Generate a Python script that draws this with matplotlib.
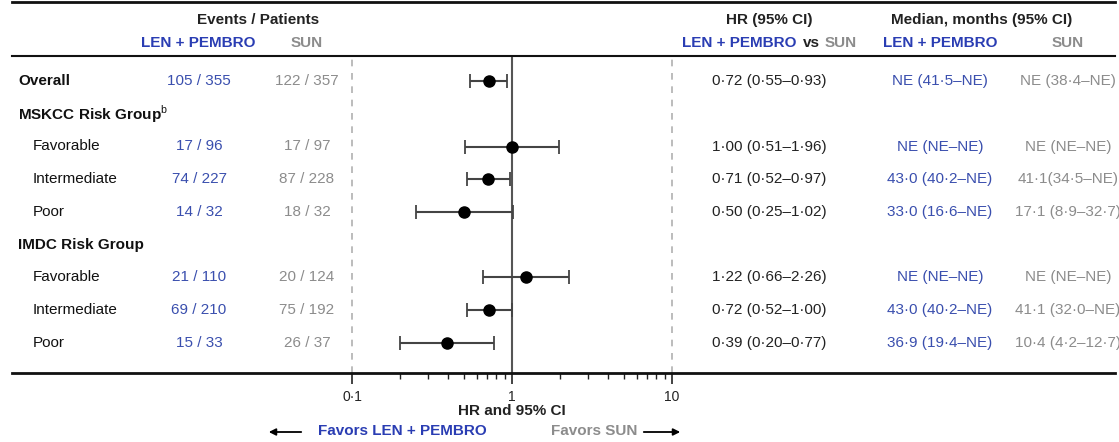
import matplotlib
matplotlib.use("Agg")
import matplotlib.pyplot as plt
import matplotlib.transforms as mtransforms
from matplotlib.lines import Line2D
from matplotlib.ticker import NullFormatter
import numpy as np

plt.rcParams['font.family'] = ['Liberation Sans', 'DejaVu Sans']
plt.rcParams['mathtext.fontset'] = 'custom'
plt.rcParams['mathtext.rm'] = 'Liberation Sans'

# --- datos ---
labels = ["Overall", "MSKCC Risk Group$^{\\mathrm{b}}$", "Favorable", "Intermediate", "Poor",
          "IMDC Risk Group", "Favorable", "Intermediate", "Poor"]
is_header = [True, True, False, False, False, True, False, False, False]
row_idx = [0, 2, 3, 4, 6, 7, 8]          # filas con datos
events_len = ["105 / 355", "17 / 96", "74 / 227", "14 / 32", "21 / 110", "69 / 210", "15 / 33"]
events_sun = ["122 / 357", "17 / 97", "87 / 228", "18 / 32", "20 / 124", "75 / 192", "26 / 37"]
hr = [0.72, 1.00, 0.71, 0.50, 1.22, 0.72, 0.39]
hr_lo = [0.55, 0.51, 0.52, 0.25, 0.66, 0.52, 0.20]
hr_hi = [0.93, 1.96, 0.97, 1.02, 2.26, 1.00, 0.77]
median_len = ["NE (41·5–NE)", "NE (NE–NE)", "43·0 (40·2–NE)", "33·0 (16·6–NE)",
              "NE (NE–NE)", "43·0 (40·2–NE)", "36·9 (19·4–NE)"]
median_sun = ["NE (38·4–NE)", "NE (NE–NE)", "41·1(34·5–NE)", "17·1 (8·9–32·7)",
              "NE (NE–NE)", "41·1 (32·0–NE)", "10·4 (4·2–12·7)"]
xticks = [0.1, 1, 10]
xtick_labels = ["0·1", "1", "10"]

BLUE = "#2a3db3"
BLUE_V = "#3a4fae"
GRAY = "#8c8c8c"
DARK = "#222222"

W, H = 1119, 442
fig = plt.figure(figsize=(W / 100, H / 100), dpi=100)

def fx(px):
    return px / W

def fy(py):
    return 1 - py / H

# ejes del forest plot
y_top, y_bot = 56, 373
row0, drow = 81, 32.75
ax = fig.add_axes([fx(352), fy(y_bot), fx(320), (y_bot - y_top) / H])
ax.set_xscale('log')
ax.set_xlim(0.1, 10)
ax.set_ylim((y_bot - row0) / drow, (y_top - row0) / drow)
for s in ax.spines.values():
    s.set_visible(False)
ax.set_yticks([])
ax.set_xticks(xticks, labels=xtick_labels)
ax.xaxis.set_minor_formatter(NullFormatter())
ax.tick_params(axis='x', which='major', length=8, width=1.2, color=DARK, labelsize=10, pad=4, labelcolor=DARK)
ax.tick_params(axis='x', which='minor', length=4, width=1.0, color=DARK)

ax.axvline(1, color='#555555', lw=1.5, zorder=1)
for v in (0.1, 10):
    ax.axvline(v, color='#b0b0b0', lw=1.2, ls=(0, (4, 4)), clip_on=False, zorder=1)

hr_a = np.array(hr)
yerr_rows = np.array(row_idx)
ax.errorbar(hr_a, yerr_rows, xerr=[hr_a - np.array(hr_lo), np.array(hr_hi) - hr_a],
            fmt='o', color='black', ms=8, ecolor='#444444', elinewidth=1.5,
            capsize=5, capthick=1.3, zorder=3)

# líneas horizontales
for py, lw in [(2, 2.0), (y_top, 1.5), (y_bot, 2.0)]:
    fig.add_artist(Line2D([fx(12), fx(1115)], [fy(py), fy(py)], color='#111111', lw=lw))

tr = mtransforms.blended_transform_factory(fig.transFigure, ax.transData)
fs = 11

# encabezados
fig.text(fx(258), fy(20), "Events / Patients", ha='center', va='center', fontsize=fs, weight='bold', color=DARK)
fig.text(fx(198), fy(43), "LEN + PEMBRO", ha='center', va='center', fontsize=fs, weight='bold', color=BLUE)
fig.text(fx(307), fy(43), "SUN", ha='center', va='center', fontsize=fs, weight='bold', color=GRAY)
fig.text(fx(769), fy(20), "HR (95% CI)", ha='center', va='center', fontsize=fs, weight='bold', color=DARK)
fig.text(fx(797), fy(43), "LEN + PEMBRO", ha='right', va='center', fontsize=fs, weight='bold', color=BLUE)
fig.text(fx(811), fy(43), "vs", ha='center', va='center', fontsize=fs, weight='bold', color=DARK)
fig.text(fx(825), fy(43), "SUN", ha='left', va='center', fontsize=fs, weight='bold', color=GRAY)
fig.text(fx(982), fy(20), "Median, months (95% CI)", ha='center', va='center', fontsize=fs, weight='bold', color=DARK)
fig.text(fx(940), fy(43), "LEN + PEMBRO", ha='center', va='center', fontsize=fs, weight='bold', color=BLUE)
fig.text(fx(1068), fy(43), "SUN", ha='center', va='center', fontsize=fs, weight='bold', color=GRAY)

# etiquetas de filas
for i, (lab, hd) in enumerate(zip(labels, is_header)):
    ax.text(fx(18 if hd else 33), i, lab, transform=tr, ha='left', va='center',
            fontsize=fs, weight='bold' if hd else 'normal', color='#111111')

# columnas de valores
for k, r in enumerate(row_idx):
    ax.text(fx(199), r, events_len[k], transform=tr, ha='center', va='center', fontsize=fs, color=BLUE_V)
    ax.text(fx(307), r, events_sun[k], transform=tr, ha='center', va='center', fontsize=fs, color=GRAY)
    hr_txt = f"{hr[k]:.2f} ({hr_lo[k]:.2f}–{hr_hi[k]:.2f})".replace('.', '·')
    ax.text(fx(769), r, hr_txt, transform=tr, ha='center', va='center', fontsize=fs, color=DARK)
    ax.text(fx(940), r, median_len[k], transform=tr, ha='center', va='center', fontsize=fs, color=BLUE_V)
    ax.text(fx(1068), r, median_sun[k], transform=tr, ha='center', va='center', fontsize=fs, color=GRAY)

# rótulos inferiores
fig.text(fx(512), fy(411), "HR and 95% CI", ha='center', va='center', fontsize=fs, weight='bold', color=DARK)
fig.text(fx(402), fy(431), "Favors LEN + PEMBRO", ha='center', va='center', fontsize=fs, weight='bold', color=BLUE)
fig.text(fx(594), fy(431), "Favors SUN", ha='center', va='center', fontsize=fs, weight='bold', color=GRAY)
fig.add_artist(matplotlib.patches.FancyArrowPatch((fx(304), fy(432)), (fx(266), fy(432)),
               transform=fig.transFigure, arrowstyle='-|>', mutation_scale=10, color='black', lw=1.3))
fig.add_artist(matplotlib.patches.FancyArrowPatch((fx(641), fy(432)), (fx(683), fy(432)),
               transform=fig.transFigure, arrowstyle='-|>', mutation_scale=10, color='black', lw=1.3))

fig.savefig("out.png", dpi=100, facecolor='white')
